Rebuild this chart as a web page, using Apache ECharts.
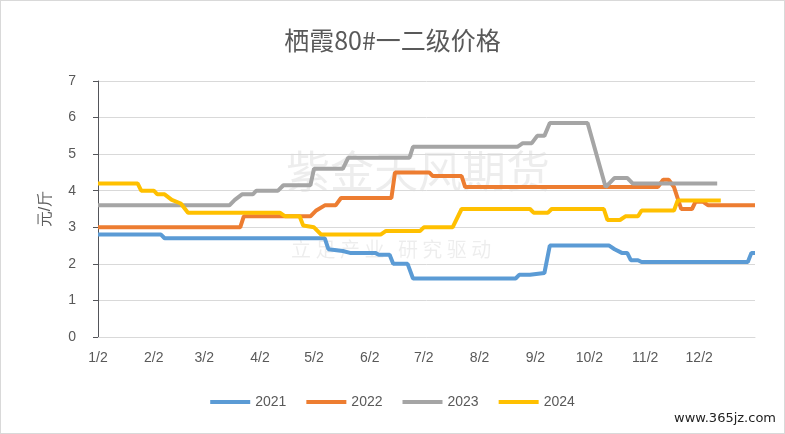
<!DOCTYPE html>
<html><head><meta charset="utf-8">
<script src="https://cdn.jsdelivr.net/npm/echarts@6/dist/echarts.min.js"></script>
<style>html,body{margin:0;padding:0;background:#fff}#c{width:785px;height:434px;box-sizing:border-box;border:1px solid #d9d9d9}</style>
</head><body><div id="c"></div>
<script>
const title = '栖霞80#一二级价格';
const monthTicks = [0,31,59,90,120,151,181,212,243,273,304,334];
const monthLabels = ['1/2','2/2','3/2','4/2','5/2','6/2','7/2','8/2','9/2','10/2','11/2','12/2'];
const years = ['2021','2022','2023','2024'];
const s2021 = [[0,2.8],[35,2.8],[37,2.7],[126,2.7],[128,2.4],[136,2.35],[140,2.3],[154,2.3],[156,2.25],[162,2.25],[164,2.0],[172,2.0],[175,1.6],[232,1.6],[234,1.7],[240,1.7],[241,1.75],[248,1.75],[251,2.5],[284,2.5],[287,2.4],[291,2.3],[294,2.3],[296,2.1],[300,2.1],[302,2.05],[361,2.05],[363,2.3],[365,2.3]];
const s2022 = [[0,3.0],[79,3.0],[81,3.3],[118,3.3],[121,3.45],[126,3.6],[132,3.6],[135,3.8],[163,3.8],[165,4.5],[184,4.5],[186,4.4],[202,4.4],[204,4.1],[311,4.1],[314,4.3],[317,4.3],[320,4.1],[322,3.8],[324,3.5],[330,3.5],[332,3.7],[336,3.7],[339,3.6],[365,3.6]];
const s2023 = [[0,3.6],[73,3.6],[76,3.75],[80,3.9],[86,3.9],[88,4.0],[100,4.0],[103,4.15],[118,4.15],[120,4.6],[136,4.6],[139,4.9],[173,4.9],[175,5.2],[196,5.2],[198,5.2],[233,5.2],[236,5.3],[241,5.3],[244,5.5],[248,5.5],[251,5.85],[272,5.85],[282,4.1],[287,4.35],[294,4.35],[297,4.2],[344,4.2]];
const s2024 = [[0,4.2],[22,4.2],[24,4.0],[31,4.0],[33,3.9],[37,3.9],[41,3.75],[46,3.65],[50,3.4],[101,3.4],[104,3.3],[112,3.3],[114,3.05],[120,3.0],[124,2.8],[157,2.8],[160,2.9],[179,2.9],[181,3.0],[197,3.0],[202,3.5],[240,3.5],[242,3.4],[250,3.4],[252,3.5],[281,3.5],[283,3.2],[290,3.2],[293,3.3],[300,3.3],[302,3.46],[320,3.46],[322,3.73],[346,3.73]];
const colors = ['#5B9BD5','#ED7D31','#A5A5A5','#FFC000'];
const data = [s2021,s2022,s2023,s2024];
const chart = echarts.init(document.getElementById('c'));
chart.setOption({
  animation:false,
  title:{text:title,left:'center',top:22,textStyle:{fontSize:25,fontWeight:'normal',color:'#595959',fontFamily:'Noto Sans CJK SC'}},
  grid:{left:97,right:29,top:80,bottom:96},
  graphic:[{type:'text',left:285,top:148,z:0,style:{text:'紫金天风期货',fontSize:44,fill:'rgba(0,0,0,0.07)',fontFamily:'Noto Sans CJK SC'}},
           {type:'text',left:290,top:238,z:0,style:{text:'立 足 产 业   研 究 驱 动',fontSize:20,fill:'rgba(0,0,0,0.07)',fontFamily:'Noto Sans CJK SC'}},
           {type:'text',right:8,bottom:8,style:{text:'www.365jz.com',fontSize:13,fill:'#222',fontFamily:'DejaVu Sans'}}],
  legend:{bottom:19,left:'center',itemWidth:40,itemHeight:4,itemGap:20,icon:'rect',textStyle:{color:'#595959',fontSize:14},data:years},
  xAxis:{type:'value',min:0,max:365,
    axisTick:{show:false},splitLine:{show:false},
    axisLine:{lineStyle:{color:'#d9d9d9'}},
    axisLabel:{customValues:monthTicks,formatter:v=>monthLabels[monthTicks.indexOf(v)]||'',color:'#595959',fontSize:14,margin:14},
  },
  yAxis:{type:'value',min:0,max:7,interval:1,name:'元/斤',nameLocation:'middle',nameGap:44,nameRotate:90,
    nameTextStyle:{color:'#595959',fontSize:16},
    axisLabel:{color:'#595959',fontSize:14,margin:22},
    splitLine:{lineStyle:{color:'#d9d9d9'}}},
  series:years.map((y,i)=>({name:y,type:'line',data:data[i],showSymbol:false,color:colors[i],lineStyle:{width:4,color:colors[i]},z:3+i}))
});
</script></body></html>
